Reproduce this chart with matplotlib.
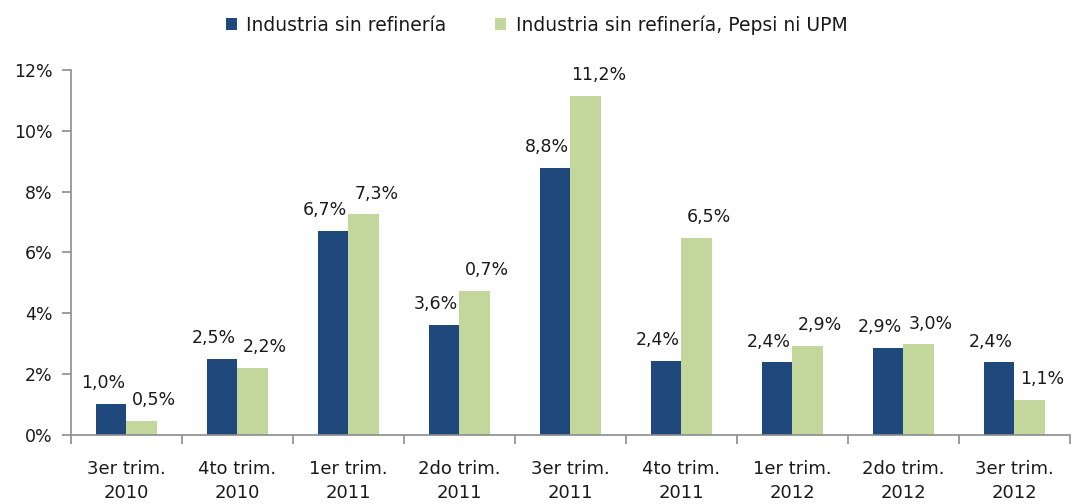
import matplotlib
matplotlib.use("Agg")
import matplotlib.pyplot as plt
import numpy as np

# Datos
trimestres = ["3er trim.\n2010", "4to trim.\n2010", "1er trim.\n2011", "2do trim.\n2011",
              "3er trim.\n2011", "4to trim.\n2011", "1er trim.\n2012", "2do trim.\n2012",
              "3er trim.\n2012"]
sin_refineria = [1.02, 2.49, 6.71, 3.62, 8.77, 2.44, 2.38, 2.85, 2.38]
sin_pepsi_upm = [0.44, 2.20, 7.25, 4.74, 11.15, 6.47, 2.91, 2.97, 1.14]
etiq_refineria = ["1,0%", "2,5%", "6,7%", "3,6%", "8,8%", "2,4%", "2,4%", "2,9%", "2,4%"]
etiq_pepsi_upm = ["0,5%", "2,2%", "7,3%", "0,7%", "11,2%", "6,5%", "2,9%", "3,0%", "1,1%"]
yticks = [0, 2, 4, 6, 8, 10, 12]

# estilo
azul = "#1F497D"
verde = "#C3D69B"
texto = "#1a1a1a"
gris = "#8c8c8c"
plt.rcParams["font.family"] = "DejaVu Sans"

fig = plt.figure(figsize=(10.84, 5.04), dpi=100)
ax = fig.add_axes([0.0655, 0.1375, 0.9215, 0.7235])

x = np.arange(len(trimestres))
w = 0.275
b1 = ax.bar(x - w/2, sin_refineria, w, color=azul, label="Industria sin refinería")
b2 = ax.bar(x + w/2, sin_pepsi_upm, w, color=verde, label="Industria sin refinería, Pepsi ni UPM")

# etiquetas de datos
for rect, t in zip(b1, etiq_refineria):
    ax.annotate(t, (rect.get_x() + rect.get_width()/2, rect.get_height()),
                xytext=(-6, 15), textcoords="offset points", ha="center", va="center",
                fontsize=12.5, color=texto)
for rect, t in zip(b2, etiq_pepsi_upm):
    ax.annotate(t, (rect.get_x() + rect.get_width()/2, rect.get_height()),
                xytext=(9, 15), textcoords="offset points", ha="center", va="center",
                fontsize=12.5, color=texto)

ax.set_xlim(-0.5, len(trimestres) - 0.5)
ax.set_ylim(0, 12)
ax.set_yticks(yticks)
ax.set_yticklabels([f"{v}%" for v in yticks])

ax.set_xticks(x)
ax.set_xticklabels(trimestres, linespacing=1.45)
ax.set_xticks(np.arange(len(trimestres) + 1) - 0.5, minor=True)
ax.tick_params(axis="x", which="major", length=0, pad=18, labelsize=13, colors=texto)
ax.tick_params(axis="x", which="minor", length=6.5, width=1.2, color=gris)
ax.tick_params(axis="y", length=6.5, width=1.2, color=gris, pad=7, labelsize=12.5, labelcolor=texto)

for s in ["top", "right"]:
    ax.spines[s].set_visible(False)
for s in ["left", "bottom"]:
    ax.spines[s].set_color(gris)
    ax.spines[s].set_linewidth(1.2)

fig.legend(handles=[b1, b2], loc="center", bbox_to_anchor=(0.495, 1 - 25/504), ncol=2,
           frameon=False, fontsize=13.5, handlelength=0.6, handleheight=0.6,
           handletextpad=0.5, columnspacing=2.6, labelcolor=texto)

fig.savefig("out.png", dpi=100)
